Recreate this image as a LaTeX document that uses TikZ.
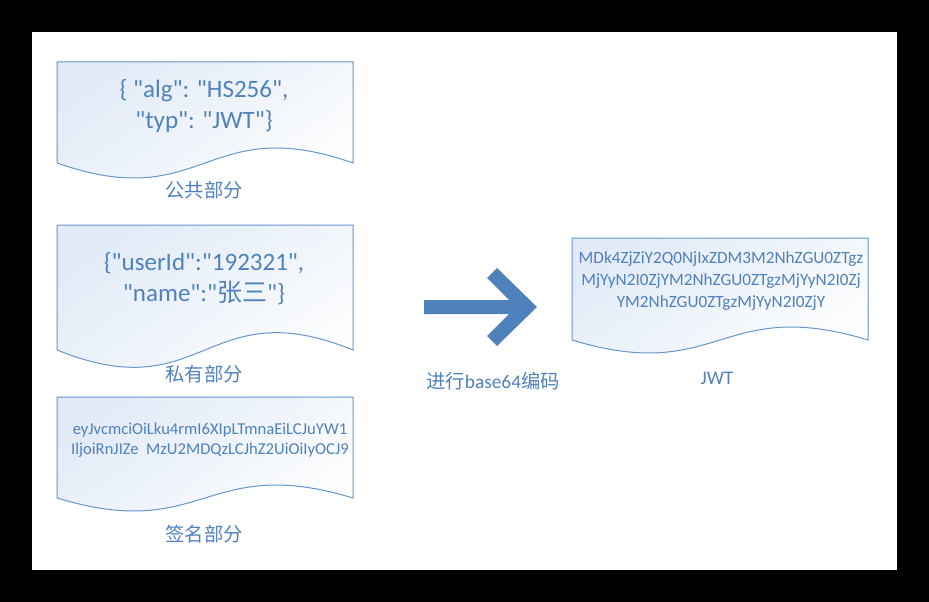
\documentclass[tikz,border=0pt]{standalone}
\usepackage{fontspec}
\setmainfont{Carlito}[Ligatures=TeXOff]
\newfontfamily\cjk{Noto Sans CJK SC}
\usetikzlibrary{positioning}

\definecolor{jwtblue}{RGB}{79,129,189}
\definecolor{lineblue}{RGB}{104,150,204}
\definecolor{docfill}{RGB}{226,235,247}

\tikzset{
    docpaper/.style={draw=lineblue, line width=1pt, top color=docfill, bottom color=white, shading angle=35},
    doctext/.style={text=jwtblue, align=center, font=\fontsize{25}{31}\selectfont},
    smalltext/.style={text=jwtblue, align=center, font=\fontsize{16.6}{20}\selectfont},
    jwttext/.style={text=jwtblue, align=center, font=\fontsize{17.2}{22}\selectfont},
    caption/.style={text=jwtblue, font=\fontsize{19.3}{22}\selectfont}
}

% paper sheet with wavy bottom: left, top, right, bottom, wave
\newcommand{\docsheet}[5]{
    \path[docpaper] (#1,#4) -- (#1,#2) -- (#3,#2) -- (#3,#4)
        .. controls ({(#1+#3)/2},{#4-#5}) and ({(#1+#3)/2},{#4+#5}) .. (#1,#4) -- cycle;
}

\begin{document}
\begin{tikzpicture}[x=1pt, y=-1pt]
    % frame
    \fill[black] (0,0) rectangle (929,602);
    \fill[white] (32,32) rectangle (897,570);

    % header part
    \docsheet{57}{62}{353}{163}{52}
    \node[doctext] (header) at (204,106) {\{ "alg": "HS256",\\"typ": "JWT"\}};
    \node[caption] (headerlbl) at (204,190) {\cjk 公共部分};

    % payload part
    \docsheet{57}{225}{353}{350}{60}
    \node[doctext] (payload) at (204,279) {\{"userId":"192321",\\"name":"{\cjk 张三}"\}};
    \node[caption] (payloadlbl) at (204,374) {\cjk 私有部分};

    % signature part
    \docsheet{57}{397}{353}{498}{45}
    \node[smalltext] (sign) at (210,440) {eyJvcmciOiLku4rmI6XIpLTmnaEiLCJuYW1\\IljoiRnJIZe\ \ MzU2MDQzLCJhZ2UiOiIyOCJ9};
    \node[caption] (signlbl) at (204,534) {\cjk 签名部分};

    % encode arrow
    \fill[jwtblue] (424,300) -- (509,300) -- (487,278) -- (497,268) -- (537,307)
        -- (497,346) -- (487,336) -- (509,314) -- (424,314) -- cycle;
    \node[caption] (encode) at (493,381) {{\cjk 进行}base64{\cjk 编码}};

    % result
    \docsheet{572}{238}{868}{340}{45}
    \node[jwttext] (token) at (721,281) {MDk4ZjZiY2Q0NjIxZDM3M2NhZGU0ZTgz\\MjYyN2I0ZjYM2NhZGU0ZTgzMjYyN2I0Zj\\YM2NhZGU0ZTgzMjYyN2I0ZjY};
    \node[caption] (tokenlbl) at (717,378) {JWT};
\end{tikzpicture}
\end{document}
